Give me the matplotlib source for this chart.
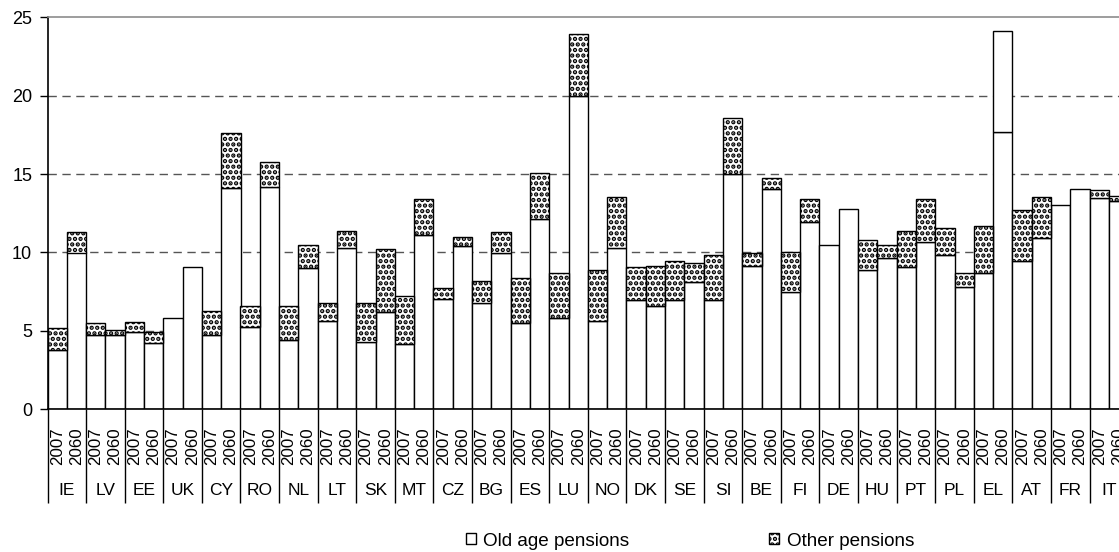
import matplotlib
matplotlib.use("Agg")
import matplotlib.pyplot as plt
from matplotlib.patches import Rectangle
import numpy as np

countries = ["IE", "LV", "EE", "UK", "CY", "RO", "NL", "LT", "SK", "MT", "CZ", "BG",
             "ES", "LU", "NO", "DK", "SE", "SI", "BE", "FI", "DE", "HU", "PT", "PL",
             "EL", "AT", "FR", "IT"]
years = ["2007", "2060"]

# Old age pensions (% of GDP), pairs 2007 / 2060
old_2007 = [3.8, 4.75, 4.9, 5.8, 4.75, 5.25, 4.45, 5.6, 4.3, 4.15, 7.05, 6.75,
            5.5, 5.8, 5.6, 6.95, 6.95, 6.95, 9.15, 7.45, 10.45, 8.9, 9.1, 9.85,
            8.7, 9.45, 13.0, 13.5]
old_2060 = [10.0, 4.75, 4.25, 9.1, 14.1, 14.15, 9.0, 10.3, 6.2, 11.1, 10.4, 9.95,
            12.15, 20.0, 10.3, 6.6, 8.1, 15.0, 14.05, 11.95, 12.75, 9.65, 10.7, 7.8,
            17.7, 10.9, 14.05, 13.3]
# Other pensions
other_2007 = [1.4, 0.75, 0.65, 0.0, 1.5, 1.35, 2.15, 1.15, 2.45, 3.05, 0.7, 1.45,
              2.9, 2.9, 3.3, 2.1, 2.5, 2.9, 0.8, 2.6, 0.0, 1.9, 2.3, 1.7,
              3.0, 3.25, 0.0, 0.5]
other_2060 = [1.3, 0.3, 0.65, 0.0, 3.55, 1.65, 1.5, 1.1, 4.05, 2.3, 0.6, 1.35,
              2.95, 3.95, 3.25, 2.55, 1.25, 3.6, 0.7, 1.45, 0.0, 0.85, 2.7, 0.9,
              6.4, 2.65, 0.0, 0.3]

legend_labels = ["Old age pensions", "Other pensions"]
unhatched_other = {("EL", "2060")}  # drawn plain white in the original

FONT = ["Liberation Sans", "DejaVu Sans"]
plt.rcParams["font.family"] = FONT
plt.rcParams["hatch.linewidth"] = 2.2
plt.rcParams["hatch.color"] = "black"
HATCH = "..."

W, H = 1119, 552
fig = plt.figure(figsize=(W / 100, H / 100), dpi=100)
left_px, right_px = 47.5, 47.5 + 56 * 19.3
top_px, bot_px = 17.3, 409.3
ax = fig.add_axes([left_px / W, 1 - bot_px / H, (right_px - left_px) / W, (bot_px - top_px) / H])

old_vals, other_vals, xlabels, keys = [], [], [], []
for i, c in enumerate(countries):
    old_vals += [old_2007[i], old_2060[i]]
    other_vals += [other_2007[i], other_2060[i]]
    xlabels += years
    keys += [(c, years[0]), (c, years[1])]
x = np.arange(len(old_vals))

ax.bar(x, old_vals, width=1.0, color="white", edgecolor="black", linewidth=1.0, zorder=3)
for xi, o, v, k in zip(x, old_vals, other_vals, keys):
    if v <= 0:
        continue
    hatch = None if k in unhatched_other else HATCH
    ax.bar(xi, v, bottom=o, width=1.0, color="white", edgecolor="black",
           linewidth=1.0, hatch=hatch, zorder=3)

ax.set_xlim(-0.5, len(x) - 0.5)
ax.set_ylim(0, 25)
ax.set_yticks([0, 5, 10, 15, 20, 25])
ax.tick_params(axis="y", length=6, width=1, pad=5, labelsize=13, colors="black")

for yv in [5, 10, 15, 20]:
    ax.axhline(yv, color="#555555", lw=1.0, ls=(0, (6, 4)), zorder=1)

ax.spines["right"].set_visible(False)
ax.spines["top"].set_color("#8c8c8c")
ax.spines["top"].set_linewidth(1.2)
ax.spines["left"].set_linewidth(1.2)
ax.spines["bottom"].set_linewidth(1.2)
ax.spines["bottom"].set_zorder(5)

# year labels
ax.set_xticks(x)
ax.set_xticklabels(xlabels, rotation=90, fontsize=12.2)
ax.tick_params(axis="x", which="major", length=0, pad=13)
# country separators
ax.set_xticks(np.arange(-0.5, len(x), 2), minor=True)
ax.tick_params(axis="x", which="minor", length=68, width=1.0, color="black")

for i, c in enumerate(countries):
    ax.annotate(c, xy=(2 * i + 0.5, 0), xycoords=("data", "axes fraction"),
                xytext=(0, -81.5), textcoords="offset pixels",
                ha="center", va="center", fontsize=12.5, annotation_clip=False)

handles = [Rectangle((0, 0), 1, 1, facecolor="white", edgecolor="black", lw=1.0),
           Rectangle((0, 0), 1, 1, facecolor="white", edgecolor="black", lw=1.0, hatch=HATCH)]
fig.legend(handles, legend_labels, loc="center", bbox_to_anchor=(690 / W, 1 - 541 / H),
           ncol=2, frameon=False, fontsize=13.6, handlelength=0.52, handleheight=0.52,
           handletextpad=0.4, columnspacing=7.4, borderaxespad=0, borderpad=0)

fig.savefig("out.png", dpi=100)
